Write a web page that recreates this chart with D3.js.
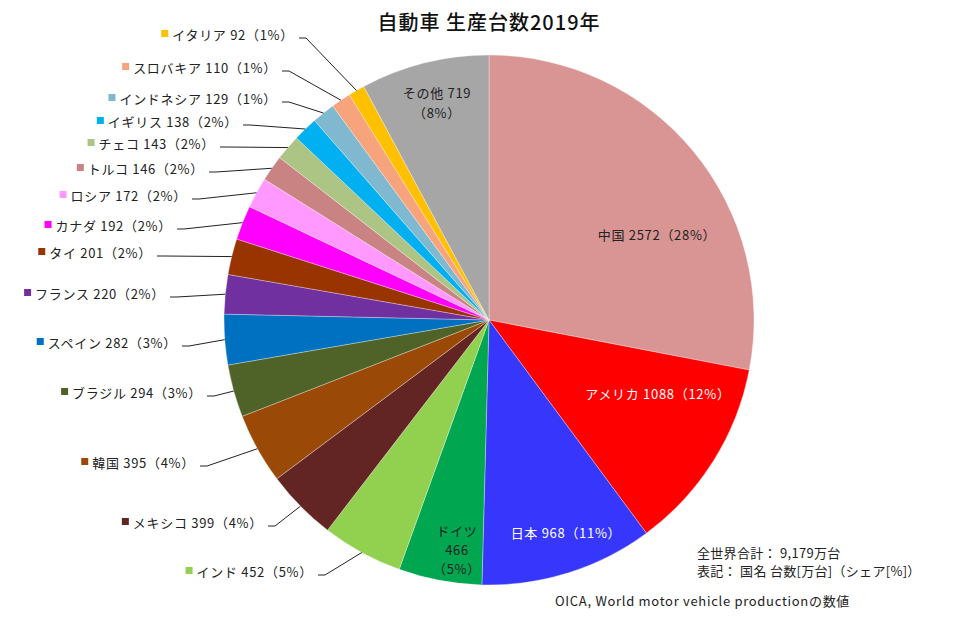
<!DOCTYPE html>
<html><head><meta charset="utf-8">
<script src="https://cdn.jsdelivr.net/npm/d3@7/dist/d3.min.js"></script>
<style>
html,body{margin:0;padding:0;background:#fff;}
text{font-family:"Noto Sans CJK JP","Noto Sans",sans-serif;}
</style></head>
<body>
<svg id="chart" width="977" height="639"></svg>
<script>
// ---- data ----
const title = "自動車 生産台数2019年";
const countries = ["中国","アメリカ","日本","ドイツ","インド","メキシコ","韓国","ブラジル","スペイン","フランス","タイ","カナダ","ロシア","トルコ","チェコ","イギリス","インドネシア","スロバキア","イタリア","その他"];
const values = [2572,1088,968,466,452,399,395,294,282,220,201,192,172,146,143,138,129,110,92,719];
const shares = [28,12,11,5,5,4,4,3,3,2,2,2,2,2,2,2,1,1,1,8];
const notes = ["全世界合計： 9,179万台","表記： 国名 台数[万台]（シェア[%]）"];
const source = "OICA, World motor vehicle productionの数値";

// ---- styles / layout ----
const colors = ["#d99594","#ff0000","#3636fc","#00a650","#92d050","#632523","#9a4a06","#4f6228","#0070c0","#7030a0","#993300","#ff00ff","#ff99ff","#c98383","#adc584","#00b0f0","#80b8cf","#f7a47d","#ffc000","#a6a6a6"];
const cx = 489, cy = 320, R = 265;
const LS = 0.7; // letter spacing
const insideLabels = [
  {i:0, x:657, ys:[234], fill:"#222", lines:d=>[`${d.name} ${d.value}（${d.share}%）`]},
  {i:1, x:658, ys:[393], fill:"#fff", lines:d=>[`${d.name} ${d.value}（${d.share}%）`]},
  {i:2, x:566, ys:[532], fill:"#fff", lines:d=>[`${d.name} ${d.value}（${d.share}%）`]},
  {i:3, x:457, ys:[530,549,568], fill:"#222", lines:d=>[d.name, `${d.value}`, `（${d.share}%）`]},
  {i:19, x:437, ys:[92,112], fill:"#222", lines:d=>[`${d.name} ${d.value}`, `（${d.share}%）`]}
];
// outside labels: index -> [text right end x, text center y]
const outsideLabels = {
  18:[294,34], 17:[277,67], 16:[277,98], 15:[238,121], 14:[215,143], 13:[204,168],
  12:[187,195], 11:[172,225], 10:[152,252], 9:[165,293], 8:[177,342], 7:[202,392],
  6:[195,462], 5:[263,522], 4:[313,571]
};

const data = countries.map((n,i)=>({name:n, value:values[i], share:shares[i], color:colors[i]}));
const svg = d3.select("#chart");
const g = svg.append("g").attr("transform",`translate(${cx},${cy})`);

const pie = d3.pie().sort(null).value(d=>d.value);
const arc = d3.arc().innerRadius(0).outerRadius(R);
const arcs = pie(data);

g.selectAll("path.slice").data(arcs).join("path")
  .attr("class","slice")
  .attr("d",arc)
  .attr("fill",d=>d.data.color)
  .attr("stroke","#ffffff").attr("stroke-opacity",0.45).attr("stroke-width",0.7);

// title
svg.append("text").attr("x",489).attr("y",30).attr("text-anchor","middle")
  .attr("font-size",20).attr("font-weight",500).attr("letter-spacing",1).attr("fill","#111").text(title);

// inside labels
insideLabels.forEach(L=>{
  const d = data[L.i];
  L.lines(d).forEach((t,k)=>{
    svg.append("text").attr("x",L.x).attr("y",L.ys[k]).attr("text-anchor","middle")
      .attr("dominant-baseline","central").attr("font-size",13).attr("letter-spacing",LS)
      .attr("fill",L.fill).text(t);
  });
});

// outside labels
Object.keys(outsideLabels).forEach(k=>{
  const i = +k, a = arcs[i], d = data[i];
  const [xe, yc] = outsideLabels[k];
  const t = svg.append("text").attr("x",xe).attr("y",yc).attr("text-anchor","end")
    .attr("dominant-baseline","central").attr("font-size",13).attr("letter-spacing",LS).attr("fill","#222")
    .text(`${d.name} ${d.value}（${d.share}%）`);
  const bb = t.node().getBBox();
  svg.append("rect").attr("x",bb.x-11).attr("y",yc-4).attr("width",7).attr("height",7).attr("fill",d.color);
  const mid = (a.startAngle+a.endAngle)/2;
  const px = cx + Math.sin(mid)*R, py = cy - Math.cos(mid)*R;
  const ly = yc+4;
  svg.append("polyline").attr("points",`${xe+5},${ly} ${xe+12},${ly} ${px},${py}`)
    .attr("fill","none").attr("stroke","#222").attr("stroke-width",1);
});

// notes
notes.forEach((n,k)=>{
  svg.append("text").attr("x",697).attr("y",552+k*18).attr("dominant-baseline","central")
    .attr("font-size",13).attr("letter-spacing",0.3).attr("fill","#222").text(n);
});
svg.append("text").attr("x",555).attr("y",600).attr("dominant-baseline","central")
  .attr("font-size",13).attr("letter-spacing",0.7).attr("fill","#222").text(source);
</script>
</body></html>
